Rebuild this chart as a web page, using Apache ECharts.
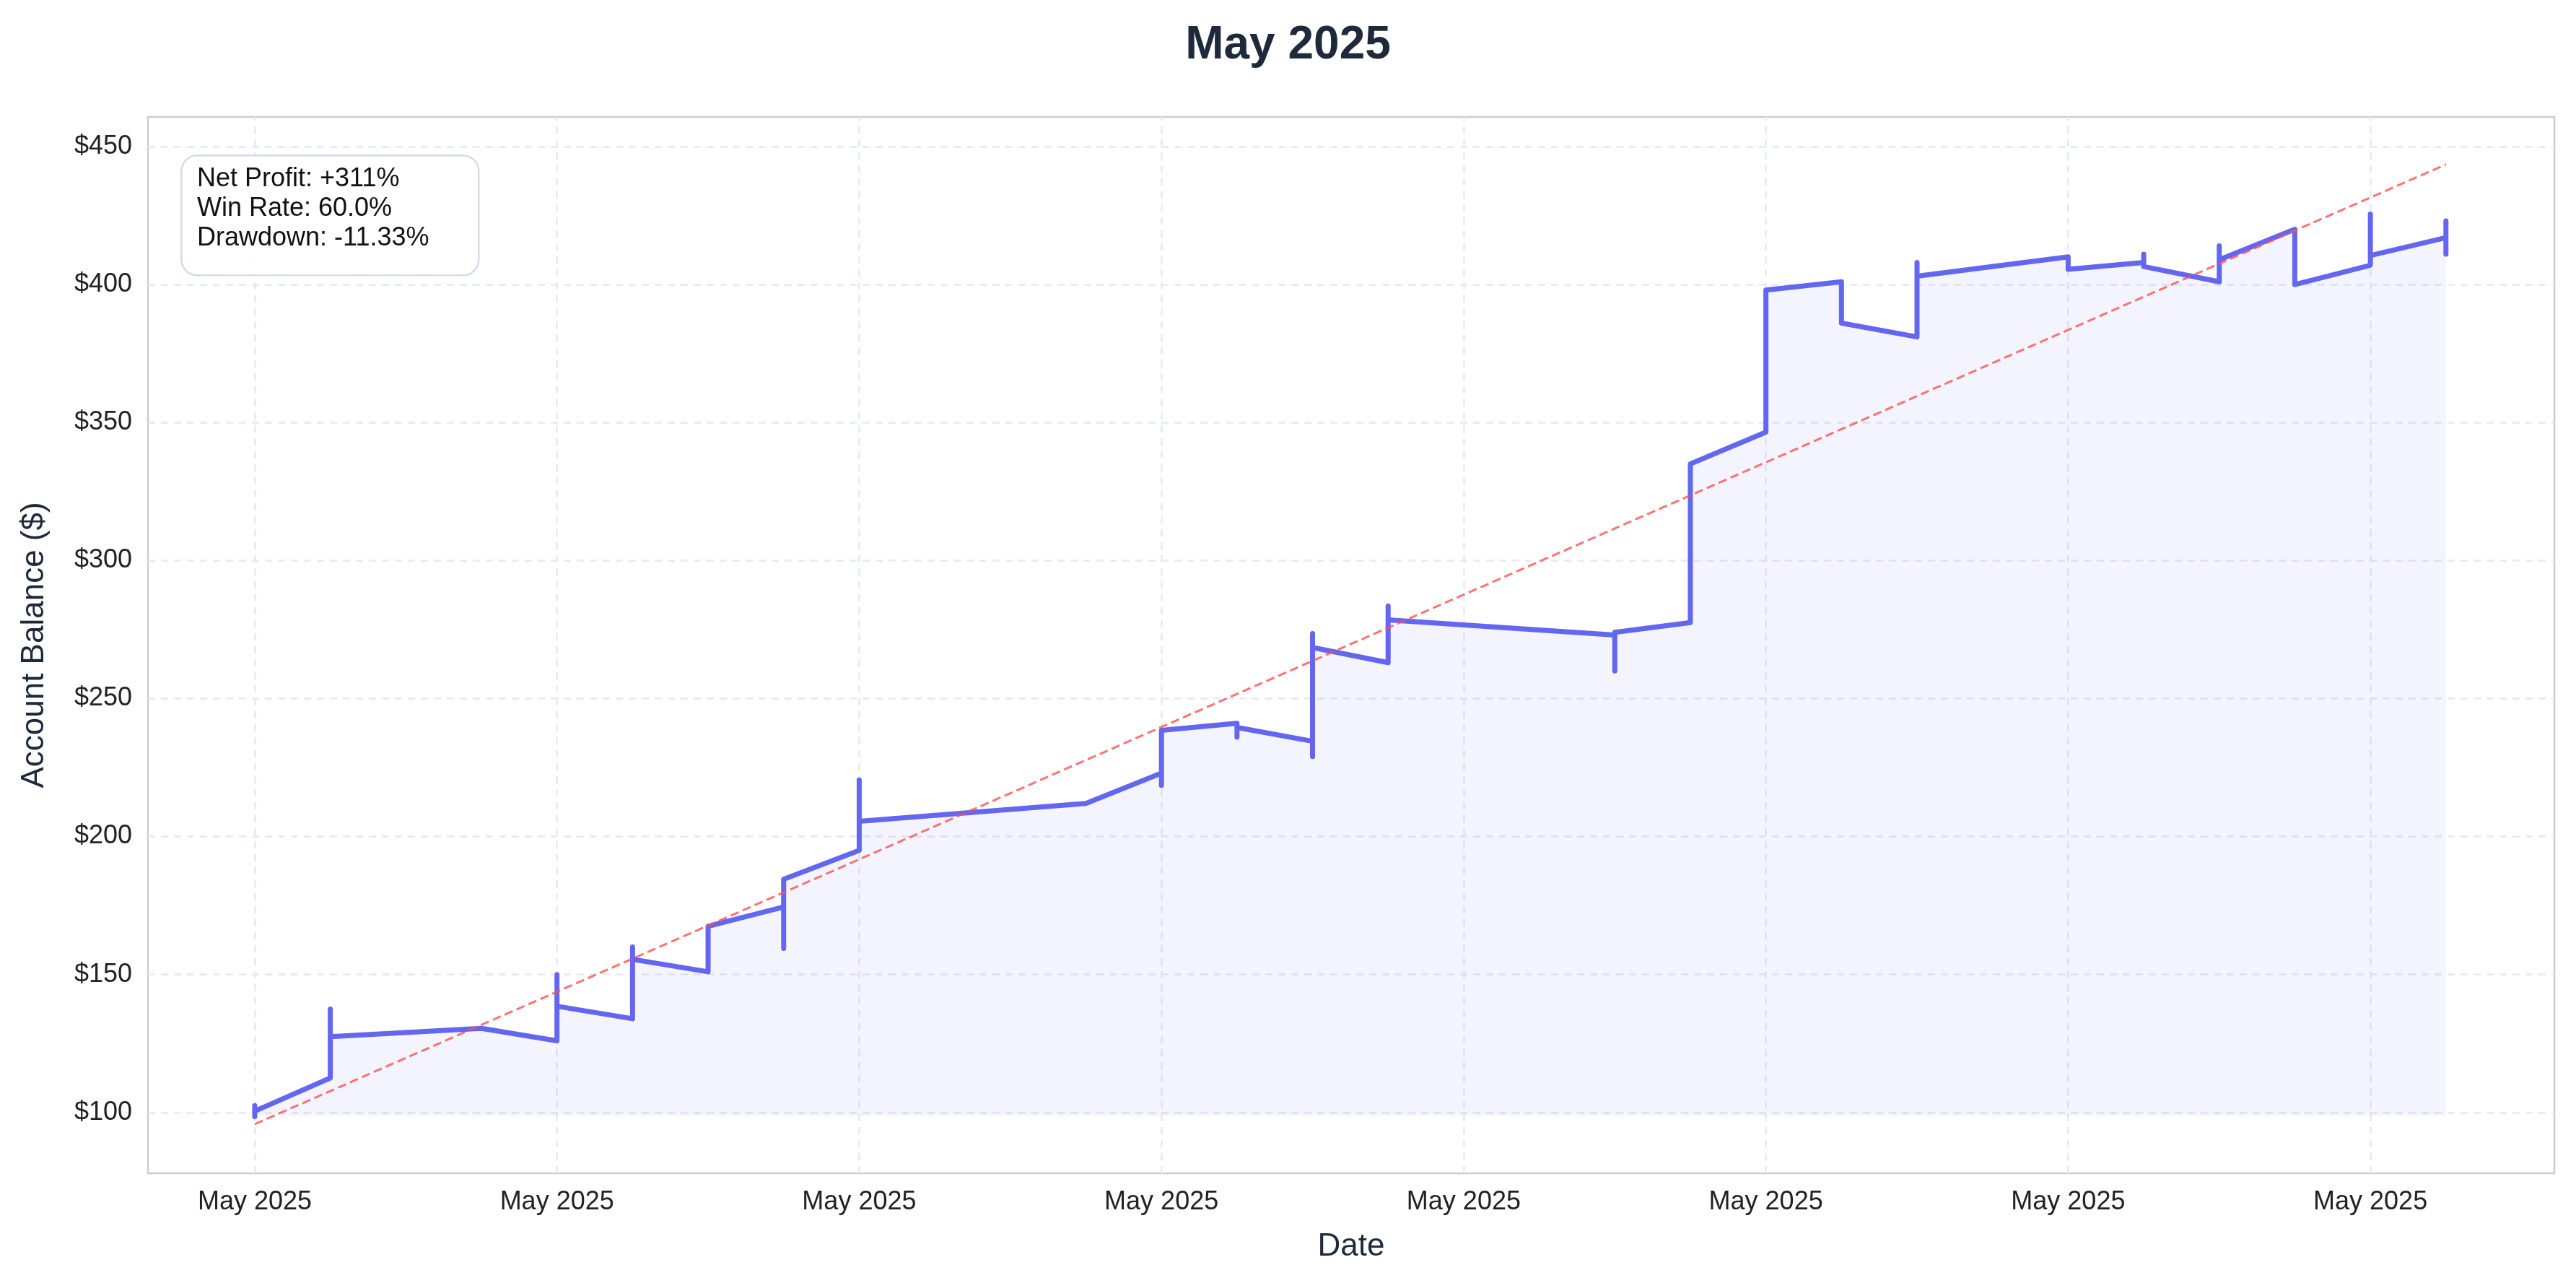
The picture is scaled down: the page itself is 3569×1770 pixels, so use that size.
<!DOCTYPE html>
<html><head><meta charset="utf-8">
<script src="https://cdn.jsdelivr.net/npm/echarts@6/dist/echarts.min.js"></script>
<style>html,body{margin:0;padding:0;background:#fff}#c{width:3569px;height:1770px}</style>
</head><body><div id="c"></div>
<script>
const dateIdx = [0,0,0, 0.25,0.25,0.25, 0.75, 1,1,1, 1.25,1.25,1.25, 1.5,1.5, 1.75,1.75,1.75, 2,2,2, 2.75, 3,3,3, 3.25,3.25,3.25, 3.5,3.5,3.5,3.5, 3.75,3.75,3.75, 4.5,4.5,4.5, 4.75,4.75, 5,5, 5.25,5.25, 5.5,5.5,5.5, 6,6, 6.25,6.25,6.25, 6.5,6.5,6.5, 6.75,6.75, 7,7,7, 7.25,7.25,7.25,7.25];
const balance = [98.5,102.5,100.5, 112.5,137.5,127.5, 130.5, 126,150,138.5, 134,160,155.5, 151,167.5, 174.5,159.5,184.5, 195,220.5,205.5, 212, 223,218.5,238.5, 241,236,239.5, 234.5,229,273.5,268.5, 263,283.5,278.5, 273,260,274, 277.5,335, 346.5,398, 401,386, 381,408,403, 410,405.5, 408,411,406.5, 401,414,409, 420,400, 407,425.5,410.5, 417,423,411,416];
const trendX = [0, 7.25];
const trendY = [95.8, 443.5];
const xTicks = [0,1,2,3,4,5,6,7];
const xTickLabel = 'May 2025';
const yTicks = [100,150,200,250,300,350,400,450];
const statsLines = ['Net Profit: +311%','Win Rate: 60.0%','Drawdown: -11.33%'];

const chart = echarts.init(document.getElementById('c'));
const gridLine = {color:'#e6e9f2', width:2.5, type:[10,8]};
chart.setOption({
  backgroundColor:'#fff',
  animation:false,
  title:{text:'May 2025', left:'center', top:26, textStyle:{fontFamily:'Liberation Sans, Arial', fontSize:64, fontWeight:'bold', color:'#1e293b'}},
  grid:{left:205, right:30, top:162, bottom:145, show:true, borderColor:'#cccccc', borderWidth:2.5, backgroundColor:'transparent'},
  xAxis:{type:'value', min:-0.3533, max:7.6087, name:'Date', nameLocation:'middle', nameGap:80,
    nameTextStyle:{fontFamily:'Liberation Sans, Arial', fontSize:44, color:'#1e293b'},
    axisLine:{show:false}, axisTick:{show:false}, splitLine:{show:false},
    axisLabel:{customValues:xTicks, formatter:()=>xTickLabel, fontFamily:'Liberation Sans, Arial', fontSize:36, color:'#222', margin:22}},
  yAxis:{type:'value', min:77.98, max:460.7, name:'Account Balance ($)', nameLocation:'middle', nameGap:135,
    nameTextStyle:{fontFamily:'Liberation Sans, Arial', fontSize:44, color:'#1e293b'},
    axisLine:{show:false}, axisTick:{show:false}, splitLine:{show:false},
    axisLabel:{customValues:yTicks, formatter:v=>'$'+v, fontFamily:'Liberation Sans, Arial', fontSize:36, color:'#222', margin:22}},
  series:[
    {type:'line', silent:true, z:0, data:[], markLine:{silent:true, z:0, symbol:'none', label:{show:false}, lineStyle:gridLine,
      data: xTicks.map(v=>({xAxis:v})).concat(yTicks.map(v=>({yAxis:v})))}},
    {type:'line', data:dateIdx.map((x,i)=>[x,balance[i]]), showSymbol:false, z:5,
      lineStyle:{color:'#6366f1', width:7, cap:'round', join:'round'},
      areaStyle:{color:'rgba(99,102,241,0.1)', origin:98.8}},
    {type:'line', data:trendX.map((x,i)=>[x,trendY[i]]), showSymbol:false, z:6,
      lineStyle:{color:'rgba(255,80,80,0.8)', width:3, type:[12,6]}}
  ],
  graphic:[
    {type:'rect', left:250, top:214, shape:{width:412, height:166, r:22}, style:{fill:'rgba(255,255,255,0.9)', stroke:'#d5dbeb', lineWidth:2.5}, z:10},
    {type:'text', left:273, top:228, style:{text:statsLines.join('\n'), font:'36px "Liberation Sans", Arial', fill:'#111', lineHeight:41}, z:11}
  ]
});
</script></body></html>
